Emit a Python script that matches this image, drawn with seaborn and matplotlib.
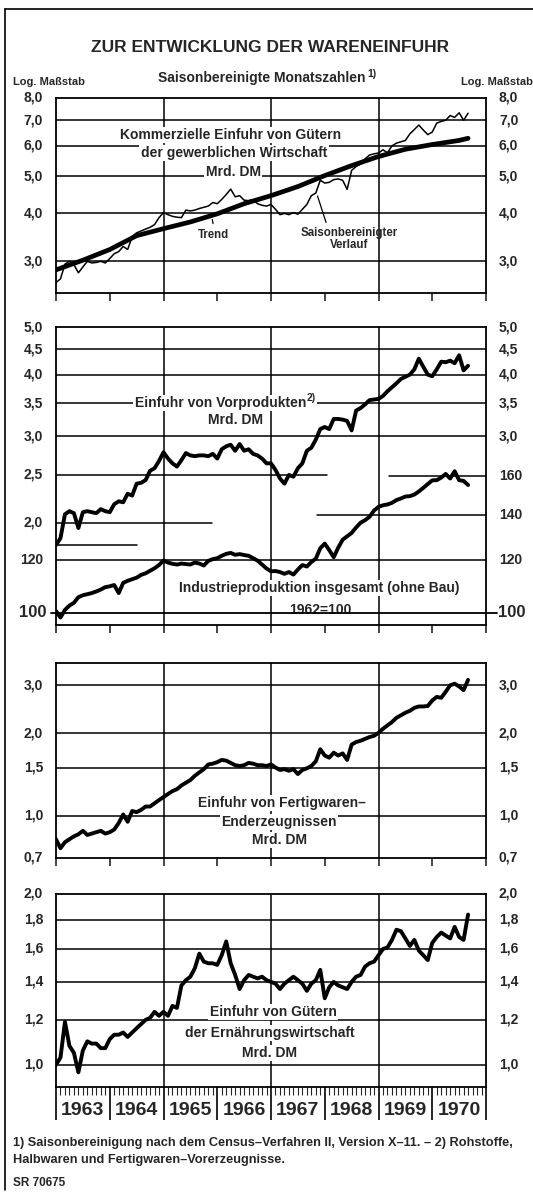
import numpy as np
import pandas as pd
import seaborn as sns
import matplotlib.pyplot as plt
import matplotlib.font_manager as fm
from matplotlib.lines import Line2D
from matplotlib.ticker import NullLocator

# Monatswerte Jan 1963 - Sep 1970
months = pd.date_range("1963-01-01", periods=93, freq="MS")

gewerbl = [2.64, 2.70, 2.95, 3.00, 2.94, 2.80, 2.90, 3.00, 2.97, 2.98, 3.00, 2.97,
           3.05, 3.14, 3.18, 3.28, 3.22, 3.48, 3.56, 3.60, 3.64, 3.68, 3.74, 3.90,
           4.02, 3.97, 3.93, 3.91, 3.90, 4.08, 4.06, 4.08, 4.12, 4.15, 4.18, 4.27,
           4.24, 4.35, 4.48, 4.63, 4.42, 4.45, 4.33, 4.32, 4.34, 4.24, 4.20, 4.18,
           4.22, 4.10, 3.97, 4.00, 3.97, 4.02, 3.98, 4.10, 4.22, 4.45, 4.52, 4.88,
           4.80, 4.82, 4.90, 4.92, 4.88, 4.62, 5.18, 5.30, 5.38, 5.55, 5.68, 5.72,
           5.75, 5.86, 5.76, 6.00, 6.10, 6.15, 6.20, 6.45, 6.62, 6.80, 6.60, 6.42,
           6.52, 6.88, 6.95, 7.00, 7.20, 7.12, 7.32, 7.00, 7.30]

trend_months = ["1963-01", "1963-07", "1964-01", "1964-07", "1965-01", "1965-07",
                "1966-01", "1966-07", "1967-01", "1967-07", "1968-01", "1968-07",
                "1969-01", "1969-07", "1970-01", "1970-07", "1970-09"]
trend = [2.85, 3.02, 3.22, 3.50, 3.65, 3.80, 3.99, 4.24, 4.45, 4.70, 5.02, 5.33,
         5.63, 5.88, 6.05, 6.20, 6.28]

vorprodukte = [1.80, 1.86, 2.08, 2.11, 2.09, 1.95, 2.10, 2.11, 2.10, 2.09, 2.13, 2.11,
               2.10, 2.18, 2.21, 2.20, 2.29, 2.27, 2.40, 2.41, 2.44, 2.55, 2.58, 2.67,
               2.78, 2.70, 2.64, 2.60, 2.68, 2.77, 2.74, 2.73, 2.74, 2.74, 2.73, 2.76,
               2.70, 2.82, 2.86, 2.88, 2.80, 2.89, 2.80, 2.82, 2.76, 2.74, 2.70, 2.64,
               2.64, 2.56, 2.46, 2.40, 2.50, 2.48, 2.58, 2.64, 2.80, 2.84, 2.95, 3.10,
               3.13, 3.10, 3.25, 3.25, 3.24, 3.22, 3.08, 3.38, 3.42, 3.48, 3.55, 3.56,
               3.57, 3.62, 3.70, 3.77, 3.84, 3.92, 3.96, 4.00, 4.10, 4.31, 4.15, 4.00,
               3.97, 4.10, 4.25, 4.24, 4.27, 4.22, 4.38, 4.08, 4.17]

industrie = [100.6, 98.4, 101.0, 102.5, 103.5, 105.5, 106.2, 106.6, 107.0, 107.6, 108.3, 109.2,
             109.5, 110.0, 107.0, 110.8, 111.6, 112.2, 112.8, 113.9, 114.5, 115.5, 116.5, 117.8,
             119.6, 118.8, 118.3, 118.0, 118.4, 118.2, 118.0, 118.8, 118.4, 117.6, 119.5, 120.2,
             120.6, 121.6, 122.4, 122.8, 122.0, 122.3, 121.9, 121.6, 120.6, 119.6, 118.0, 116.4,
             115.3, 115.4, 115.0, 114.3, 115.0, 114.0, 116.0, 117.8, 117.2, 119.0, 120.4, 124.8,
             126.8, 124.0, 121.0, 125.0, 128.5, 130.0, 131.5, 134.0, 136.2, 137.4, 139.0, 142.0,
             143.8, 144.6, 145.0, 145.8, 147.2, 148.0, 149.0, 149.2, 150.0, 151.6, 153.5, 155.5,
             157.5, 157.6, 159.0, 161.0, 158.5, 162.5, 157.6, 157.2, 155.0]

fertigwaren = [0.82, 0.76, 0.80, 0.82, 0.84, 0.855, 0.88, 0.85, 0.86, 0.87, 0.88, 0.86,
               0.87, 0.89, 0.94, 1.01, 0.95, 1.04, 1.03, 1.05, 1.08, 1.08, 1.11, 1.14,
               1.17, 1.20, 1.23, 1.25, 1.29, 1.32, 1.35, 1.40, 1.44, 1.48, 1.54, 1.55,
               1.57, 1.60, 1.59, 1.56, 1.53, 1.52, 1.53, 1.56, 1.55, 1.53, 1.53, 1.52,
               1.54, 1.50, 1.47, 1.48, 1.46, 1.48, 1.42, 1.47, 1.49, 1.52, 1.58, 1.75,
               1.66, 1.63, 1.70, 1.66, 1.69, 1.60, 1.82, 1.86, 1.88, 1.91, 1.94, 1.96,
               2.01, 2.08, 2.14, 2.20, 2.28, 2.33, 2.38, 2.42, 2.48, 2.51, 2.51, 2.52,
               2.64, 2.72, 2.70, 2.84, 3.00, 3.04, 2.97, 2.88, 3.14]

ernaehrung = [1.00, 1.03, 1.19, 1.08, 1.05, 0.97, 1.06, 1.10, 1.09, 1.09, 1.07, 1.07,
              1.11, 1.13, 1.13, 1.14, 1.12, 1.14, 1.16, 1.18, 1.20, 1.21, 1.24, 1.22,
              1.24, 1.22, 1.27, 1.26, 1.38, 1.41, 1.43, 1.48, 1.57, 1.52, 1.51, 1.51,
              1.50, 1.56, 1.65, 1.51, 1.44, 1.36, 1.41, 1.44, 1.43, 1.42, 1.43, 1.41,
              1.40, 1.39, 1.36, 1.39, 1.41, 1.43, 1.41, 1.39, 1.35, 1.39, 1.41, 1.47,
              1.31, 1.37, 1.40, 1.38, 1.37, 1.36, 1.40, 1.43, 1.44, 1.49, 1.51, 1.52,
              1.56, 1.60, 1.61, 1.66, 1.73, 1.72, 1.67, 1.62, 1.66, 1.59, 1.56, 1.53,
              1.64, 1.68, 1.71, 1.69, 1.67, 1.75, 1.68, 1.66, 1.84]

years = list(range(1963, 1972))
year_labels = [str(y) for y in range(1963, 1971)]


def dec_year(dates):
    dates = pd.DatetimeIndex(dates)
    return dates.year + (dates.month - 1) / 12


def set_config():
    sns.set_style("white")
    names = {f.name for f in fm.fontManager.ttflist}
    for name in ["Liberation Sans", "Roboto", "DejaVu Sans"]:
        if name in names:
            plt.rcParams["font.family"] = [name, "DejaVu Sans"]
            return


set_config()

W, H = 533, 1193
LEFT, RIGHT = 56, 486
fig = plt.figure(figsize=(W / 100, H / 100), dpi=100)
fig.patch.set_facecolor("white")


def ftext(px, py, s, size=11, weight="normal", ha="center", va="center", **kw):
    return fig.text(px / W, 1 - py / H, s, size=size, weight=weight, ha=ha, va=va, **kw)


def panel(top, bottom):
    ax = fig.add_axes([LEFT / W, 1 - bottom / H, (RIGHT - LEFT) / W, (bottom - top) / H])
    ax.set_facecolor("none")
    for s in ax.spines.values():
        s.set_color("black")
        s.set_linewidth(1.3)
    return ax


def finish(ax, ylim, grid):
    ax.set_yscale("log")
    ax.set_xlim(1963, 1971)
    ax.set_ylim(*ylim)
    ax.yaxis.set_major_locator(NullLocator())
    ax.yaxis.set_minor_locator(NullLocator())
    ax.set_xticks(years)
    ax.tick_params(axis="x", direction="out", length=6, width=1.2, labelbottom=False, bottom=True)
    ax.set_xlabel("")
    ax.set_ylabel("")
    for v in grid:
        ax.axhline(v, color="black", lw=1.1, zorder=1)
    for x in [1965, 1967, 1969]:
        ax.axvline(x, color="black", lw=1.1, zorder=1)


def comma(v):
    return f"{v:.1f}".replace(".", ",")


def ylabels(ax, values, side="both", fmt=comma, size=10):
    tr = ax.get_yaxis_transform()
    for v in values:
        if side in ("both", "left"):
            ax.text(-0.03, v, fmt(v), transform=tr, ha="right", va="center", size=size, weight="bold")
        if side in ("both", "right"):
            ax.text(1.03, v, fmt(v), transform=tr, ha="left", va="center", size=size, weight="bold")


def label(ax, px, py, s, size=10, ha="center"):
    ax.text(px / W, 1 - py / H, s, transform=fig.transFigure, ha=ha, va="center", size=size,
            weight="bold", zorder=2, bbox=dict(fc="white", ec="none", pad=1.0))


# --- Titel ---
ftext(270, 47, "ZUR ENTWICKLUNG DER WARENEINFUHR", size=12.5, weight="bold")
ftext(365, 78, "Saisonbereinigte Monatszahlen", size=10, weight="bold", ha="right")
ftext(367, 74, "1)", size=7.5, weight="bold", ha="left")
ftext(13, 82, "Log. Maßstab", size=8, weight="bold", ha="left")
ftext(461, 82, "Log. Maßstab", size=8, weight="bold", ha="left")

# --- Panel 1 ---
ax1 = panel(98, 293)
df1 = pd.DataFrame({"t": dec_year(months), "v": gewerbl})
dft = pd.DataFrame({"t": dec_year(trend_months), "v": trend})
sns.lineplot(data=df1, x="t", y="v", ax=ax1, color="black", lw=1.1, zorder=3, estimator=None)
sns.lineplot(data=dft, x="t", y="v", ax=ax1, color="black", lw=3.4, zorder=4, estimator=None)
finish(ax1, (2.48, 8.0), [3, 4, 5, 6, 7])
ylabels(ax1, [3, 4, 5, 6, 7, 8])
label(ax1, 231, 135, "Kommerzielle Einfuhr von Gütern")
label(ax1, 234, 153, "der gewerblichen Wirtschaft")
label(ax1, 233, 172, "Mrd. DM")
ax1.annotate("", xy=(1965.90, 3.92), xytext=(1965.93, 3.70),
             arrowprops=dict(arrowstyle="-", lw=0.9, color="black"))
ax1.text(1965.93, 3.52, "Trend", ha="center", va="center", size=8.3, weight="bold", zorder=5)
ax1.annotate("", xy=(1967.85, 4.51), xytext=(1968.04, 3.73),
             arrowprops=dict(arrowstyle="-", lw=0.9, color="black"))
ax1.text(1968.45, 3.43, "Saisonbereinigter\nVerlauf", ha="center", va="center", size=8.3,
         weight="bold", linespacing=0.95, zorder=5)

# --- Panel 2 ---
ax2 = panel(327, 625)
df2 = pd.DataFrame({"t": dec_year(months), "v": vorprodukte})
sns.lineplot(data=df2, x="t", y="v", ax=ax2, color="black", lw=2.8, zorder=3, estimator=None)
finish(ax2, (1.238, 5.0), [3.0, 3.5, 4.0, 4.5])
ax2.axhline(2.5, xmin=0, xmax=5.05 / 8, color="black", lw=1.1, zorder=1)
ax2.axhline(2.0, xmin=0, xmax=2.9 / 8, color="black", lw=1.1, zorder=1)
ax2.axhline(1.8, xmin=0, xmax=1.5 / 8, color="black", lw=1.1, zorder=1)
ylabels(ax2, [3.0, 3.5, 4.0, 4.5, 5.0])
ylabels(ax2, [2.0, 2.5], side="left")

ax2b = ax2.twinx()
ax2b.patch.set_visible(False)
df2b = pd.DataFrame({"t": dec_year(months), "v": industrie})
sns.lineplot(data=df2b, x="t", y="v", ax=ax2b, color="black", lw=2.8, zorder=3, estimator=None)
ax2b.set_yscale("log")
ax2b.set_ylim(95.9, 266.5)
ax2b.set_xlim(1963, 1971)
ax2b.yaxis.set_major_locator(NullLocator())
ax2b.yaxis.set_minor_locator(NullLocator())
ax2b.set_ylabel("")
for s in ax2b.spines.values():
    s.set_visible(False)
ax2b.axhline(120, color="black", lw=1.1, zorder=1)
ax2b.axhline(140, xmin=4.85 / 8, xmax=1, color="black", lw=1.1, zorder=1)
ax2b.axhline(160, xmin=6.2 / 8, xmax=1, color="black", lw=1.1, zorder=1)
ax2b.axhline(100, xmin=-0.012, xmax=1.025, color="black", lw=1.3, zorder=1, clip_on=False)
ylabels(ax2b, [140, 160], side="right", fmt=lambda v: f"{v:.0f}")
ylabels(ax2b, [120], fmt=lambda v: f"{v:.0f}")
tr = ax2b.get_yaxis_transform()
ax2b.text(-0.023, 100, "100", transform=tr, ha="right", va="center", size=12, weight="bold")
ax2b.text(1.028, 100, "100", transform=tr, ha="left", va="center", size=12, weight="bold")
label(ax2, 306, 403, "Einfuhr von Vorprodukten", ha="right")
label(ax2, 307, 398, "2)", size=7.5, ha="left")
label(ax2, 236, 420, "Mrd. DM")
label(ax2, 319, 588, "Industrieproduktion insgesamt (ohne Bau)")
label(ax2, 320, 610, "1962=100")

# --- Panel 3 ---
ax3 = panel(663, 858)
df3 = pd.DataFrame({"t": dec_year(months), "v": fertigwaren})
sns.lineplot(data=df3, x="t", y="v", ax=ax3, color="black", lw=2.8, zorder=3, estimator=None)
finish(ax3, (0.70, 3.62), [1.0, 1.5, 2.0, 3.0])
ylabels(ax3, [0.7, 1.0, 1.5, 2.0, 3.0])
label(ax3, 282, 803, "Einfuhr von Fertigwaren–")
label(ax3, 279, 822, "Enderzeugnissen")
label(ax3, 280, 840, "Mrd. DM")

# --- Panel 4 ---
ax4 = panel(894, 1087)
df4 = pd.DataFrame({"t": dec_year(months), "v": ernaehrung})
sns.lineplot(data=df4, x="t", y="v", ax=ax4, color="black", lw=2.8, zorder=3, estimator=None)
finish(ax4, (0.914, 2.0), [1.0, 1.2, 1.4, 1.6, 1.8])
ylabels(ax4, [1.0, 1.2, 1.4, 1.6, 1.8, 2.0])
ax4.set_xticks(np.arange(1963, 1971, 1 / 12), minor=True)
ax4.tick_params(axis="x", which="major", direction="out", length=24, width=1.4, bottom=True)
ax4.tick_params(axis="x", which="minor", direction="out", length=6, width=0.8, bottom=True,
                labelbottom=False)
for i, yl in enumerate(year_labels):
    ax4.text(years[i] + 0.5, -0.12, yl, transform=ax4.get_xaxis_transform(), ha="center",
             va="center", size=14, weight="bold")
label(ax4, 273, 1012, "Einfuhr von Gütern")
label(ax4, 270, 1033, "der Ernährungswirtschaft")
label(ax4, 270, 1053, "Mrd. DM")

# --- Fußnoten ---
ftext(13, 1143, "1) Saisonbereinigung nach dem Census–Verfahren II, Version X–11. – 2) Rohstoffe,",
      size=9.2, weight="bold", ha="left")
ftext(13, 1160, "Halbwaren und Fertigwaren–Vorerzeugnisse.", size=9.2, weight="bold", ha="left")
ftext(13, 1183, "SR 70675", size=8.5, weight="bold", ha="left")

# Rahmen
fig.add_artist(Line2D([5 / W, 5 / W], [1 - 9 / H, 1 - 1190 / H], color="black", lw=1.2))
fig.add_artist(Line2D([5 / W, 1], [1 - 9 / H, 1 - 9 / H], color="black", lw=1.2))

fig.savefig("out.png", dpi=100, facecolor="white")
